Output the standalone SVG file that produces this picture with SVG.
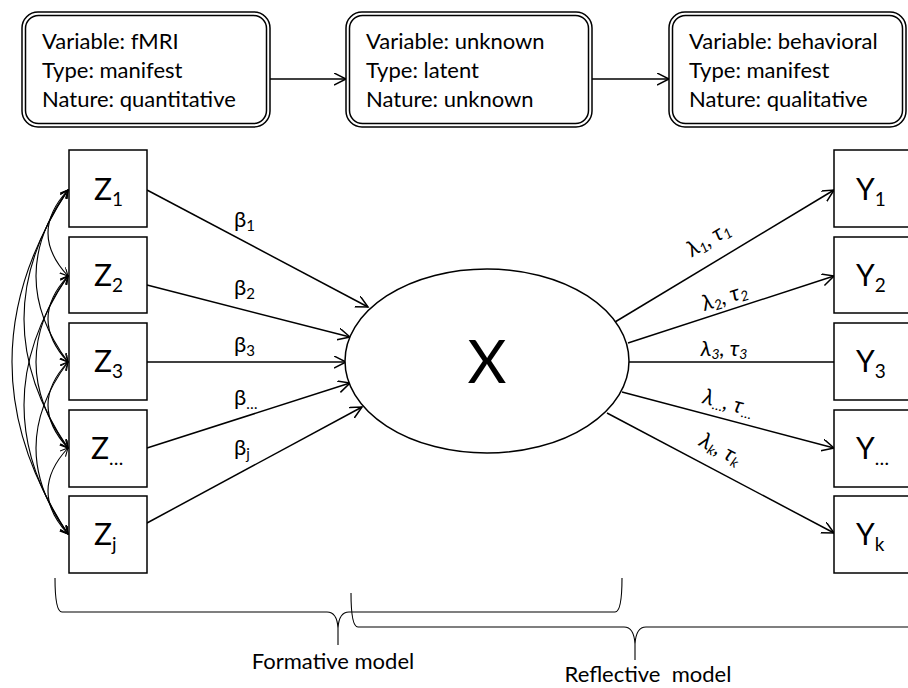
<svg xmlns="http://www.w3.org/2000/svg" width="908" height="688" viewBox="0 0 908 688">
<style>
  text { font-family: Lato, "Open Sans", "Liberation Sans", sans-serif; fill: #000; }
  .info { font-size: 22px; }
  .box { fill: #fff; stroke: #000; stroke-width: 1.5; }
  .line { fill: none; stroke: #000; stroke-width: 1.5; }
  .arc { fill: none; stroke: #000; stroke-width: 1.1; }
  .var { font-size: 30px; }
  .sub { font-size: 19px; }
  .coef { font-size: 22px; }
  .csub { font-size: 15px; }
  .lab { font-size: 22px; font-style: italic; }
  .lsub { font-size: 14px; font-style: italic; }
  .note { font-size: 22px; }
</style>
<defs>
  <marker id="arr" markerUnits="userSpaceOnUse" markerWidth="16" markerHeight="14" refX="12" refY="6" orient="auto">
    <path d="M0,0 L12,6 L0,12" fill="none" stroke="#000" stroke-width="1.5"/>
  </marker>
  <marker id="arrs" markerUnits="userSpaceOnUse" markerWidth="12" markerHeight="10" refX="8" refY="4" orient="auto-start-reverse">
    <path d="M0,0 L8,4 L0,8" fill="none" stroke="#000" stroke-width="1.1"/>
  </marker>
</defs>

<g id="connectors">
  <!-- top info arrows -->
  <line class="line" x1="270" y1="79" x2="346" y2="79" marker-end="url(#arr)"/>
  <line class="line" x1="592" y1="79" x2="669" y2="79" marker-end="url(#arr)"/>
  <!-- formative arrows -->
  <line class="line" x1="147" y1="190" x2="368" y2="307" marker-end="url(#arr)"/>
  <line class="line" x1="147" y1="285" x2="350" y2="337" marker-end="url(#arr)"/>
  <line class="line" x1="147" y1="362" x2="346" y2="362" marker-end="url(#arr)"/>
  <line class="line" x1="147" y1="448" x2="350" y2="383" marker-end="url(#arr)"/>
  <line class="line" x1="147" y1="523" x2="362" y2="407" marker-end="url(#arr)"/>
  <!-- reflective arrows -->
  <line class="line" x1="615" y1="322" x2="834" y2="190" marker-end="url(#arr)"/>
  <line class="line" x1="628" y1="343" x2="834" y2="276" marker-end="url(#arr)"/>
  <line class="line" x1="629" y1="362" x2="834" y2="362"/>
  <line class="line" x1="622" y1="392" x2="834" y2="448" marker-end="url(#arr)"/>
  <line class="line" x1="607" y1="413" x2="834" y2="533" marker-end="url(#arr)"/>
  <!-- covariance arcs -->
  <path class="arc" d="M68,190 Q28,233 68,276" marker-start="url(#arrs)" marker-end="url(#arrs)"/>
  <path class="arc" d="M68,276 Q28,319 68,362" marker-start="url(#arrs)" marker-end="url(#arrs)"/>
  <path class="arc" d="M68,362 Q28,405 68,448" marker-start="url(#arrs)" marker-end="url(#arrs)"/>
  <path class="arc" d="M68,448 Q28,491 68,534" marker-start="url(#arrs)" marker-end="url(#arrs)"/>
  <path class="arc" d="M68,190 Q4,276 68,362" marker-start="url(#arrs)" marker-end="url(#arrs)"/>
  <path class="arc" d="M68,276 Q4,362 68,448" marker-start="url(#arrs)" marker-end="url(#arrs)"/>
  <path class="arc" d="M68,362 Q4,448 68,534" marker-start="url(#arrs)" marker-end="url(#arrs)"/>
  <path class="arc" d="M68,190 Q-20,319 68,448" marker-start="url(#arrs)" marker-end="url(#arrs)"/>
  <path class="arc" d="M68,276 Q-20,405 68,534" marker-start="url(#arrs)" marker-end="url(#arrs)"/>
  <path class="arc" d="M68,190 Q-44,362 68,534" marker-start="url(#arrs)" marker-end="url(#arrs)"/>
  <!-- coefficient labels -->
  <text class="coef" x="234" y="227">β<tspan class="csub" dy="4">1</tspan></text>
  <text class="coef" x="234" y="295">β<tspan class="csub" dy="4">2</tspan></text>
  <text class="coef" x="234" y="352">β<tspan class="csub" dy="4">3</tspan></text>
  <text class="coef" x="234" y="405">β<tspan class="csub" dy="4">…</tspan></text>
  <text class="coef" x="234" y="455">β<tspan class="csub" dy="4">j</tspan></text>
  <text class="lab" text-anchor="middle" transform="translate(709,240) rotate(-31)" y="6">λ<tspan class="lsub" dy="3">1</tspan><tspan dy="-3">, τ</tspan><tspan class="lsub" dy="3">1</tspan></text>
  <text class="lab" text-anchor="middle" transform="translate(725,298) rotate(-18)" y="6">λ<tspan class="lsub" dy="3">2</tspan><tspan dy="-3">, τ</tspan><tspan class="lsub" dy="3">2</tspan></text>
  <text class="lab" text-anchor="middle" transform="translate(724,350)" y="6">λ<tspan class="lsub" dy="3">3</tspan><tspan dy="-3">, τ</tspan><tspan class="lsub" dy="3">3</tspan></text>
  <text class="lab" text-anchor="middle" transform="translate(728,404) rotate(15)" y="6">λ<tspan class="lsub" dy="3">…</tspan><tspan dy="-3">, τ</tspan><tspan class="lsub" dy="3">…</tspan></text>
  <text class="lab" text-anchor="middle" transform="translate(720,450) rotate(28)" y="6">λ<tspan class="lsub" dy="3">k</tspan><tspan dy="-3">, τ</tspan><tspan class="lsub" dy="3">k</tspan></text>
</g>

<g id="info-fmri">
  <rect class="box" x="22" y="12" width="248" height="115" rx="16"/>
  <rect class="box" x="25.5" y="15.5" width="241" height="108" rx="13"/>
  <text class="info" x="42" y="49">Variable: fMRI</text>
  <text class="info" x="42" y="78">Type: manifest</text>
  <text class="info" x="42" y="107">Nature: quantitative</text>
</g>
<g id="info-unknown">
  <rect class="box" x="346" y="12" width="246" height="115" rx="16"/>
  <rect class="box" x="349.5" y="15.5" width="239" height="108" rx="13"/>
  <text class="info" x="366" y="49">Variable: unknown</text>
  <text class="info" x="366" y="78">Type: latent</text>
  <text class="info" x="366" y="107">Nature: unknown</text>
</g>
<g id="info-behavioral">
  <rect class="box" x="669" y="12" width="237" height="115" rx="16"/>
  <rect class="box" x="672.5" y="15.5" width="230" height="108" rx="13"/>
  <text class="info" x="689" y="49">Variable: behavioral</text>
  <text class="info" x="689" y="78">Type: manifest</text>
  <text class="info" x="689" y="107">Nature: qualitative</text>
</g>

<g id="Z1"><rect class="box" x="69" y="150" width="78" height="77"/><text class="var" x="94" y="200">Z<tspan class="sub" dy="6">1</tspan></text></g>
<g id="Z2"><rect class="box" x="69" y="237" width="78" height="76"/><text class="var" x="94" y="286">Z<tspan class="sub" dy="6">2</tspan></text></g>
<g id="Z3"><rect class="box" x="69" y="323" width="78" height="77"/><text class="var" x="94" y="372">Z<tspan class="sub" dy="6">3</tspan></text></g>
<g id="Zdots"><rect class="box" x="69" y="410" width="78" height="77"/><text class="var" x="91" y="459">Z<tspan class="sub" dy="6">…</tspan></text></g>
<g id="Zj"><rect class="box" x="69" y="496" width="78" height="77"/><text class="var" x="94" y="545">Z<tspan class="sub" dy="6">j</tspan></text></g>

<g id="X">
  <ellipse class="box" cx="487" cy="361" rx="142" ry="92"/>
  <text x="487" y="383" font-size="60" text-anchor="middle">X</text>
</g>

<g id="Y1"><rect class="box" x="834" y="150" width="80" height="77"/><text class="var" x="856" y="200">Y<tspan class="sub" dy="6">1</tspan></text></g>
<g id="Y2"><rect class="box" x="834" y="237" width="80" height="76"/><text class="var" x="856" y="286">Y<tspan class="sub" dy="6">2</tspan></text></g>
<g id="Y3"><rect class="box" x="834" y="323" width="80" height="77"/><text class="var" x="856" y="372">Y<tspan class="sub" dy="6">3</tspan></text></g>
<g id="Ydots"><rect class="box" x="834" y="410" width="80" height="77"/><text class="var" x="856" y="459">Y<tspan class="sub" dy="6">…</tspan></text></g>
<g id="Yk"><rect class="box" x="834" y="496" width="80" height="77"/><text class="var" x="856" y="545">Y<tspan class="sub" dy="6">k</tspan></text></g>

<g id="formative-brace">
  <path class="arc" d="M55,578 Q55,612 62,612 L327,612 Q337,612 338,628 L338,645 M338,628 Q339,612 349,612 L615,612 Q622,612 622,578"/>
  <text class="note" x="333" y="669" text-anchor="middle">Formative model</text>
</g>
<g id="reflective-brace">
  <path class="arc" d="M351,593 Q351,627 358,627 L624,627 Q634,627 635,644 L635,660 M635,644 Q636,627 646,627 L910,627"/>
  <text class="note" x="648" y="682" text-anchor="middle" xml:space="preserve">Reflective  model</text>
</g>
</svg>
